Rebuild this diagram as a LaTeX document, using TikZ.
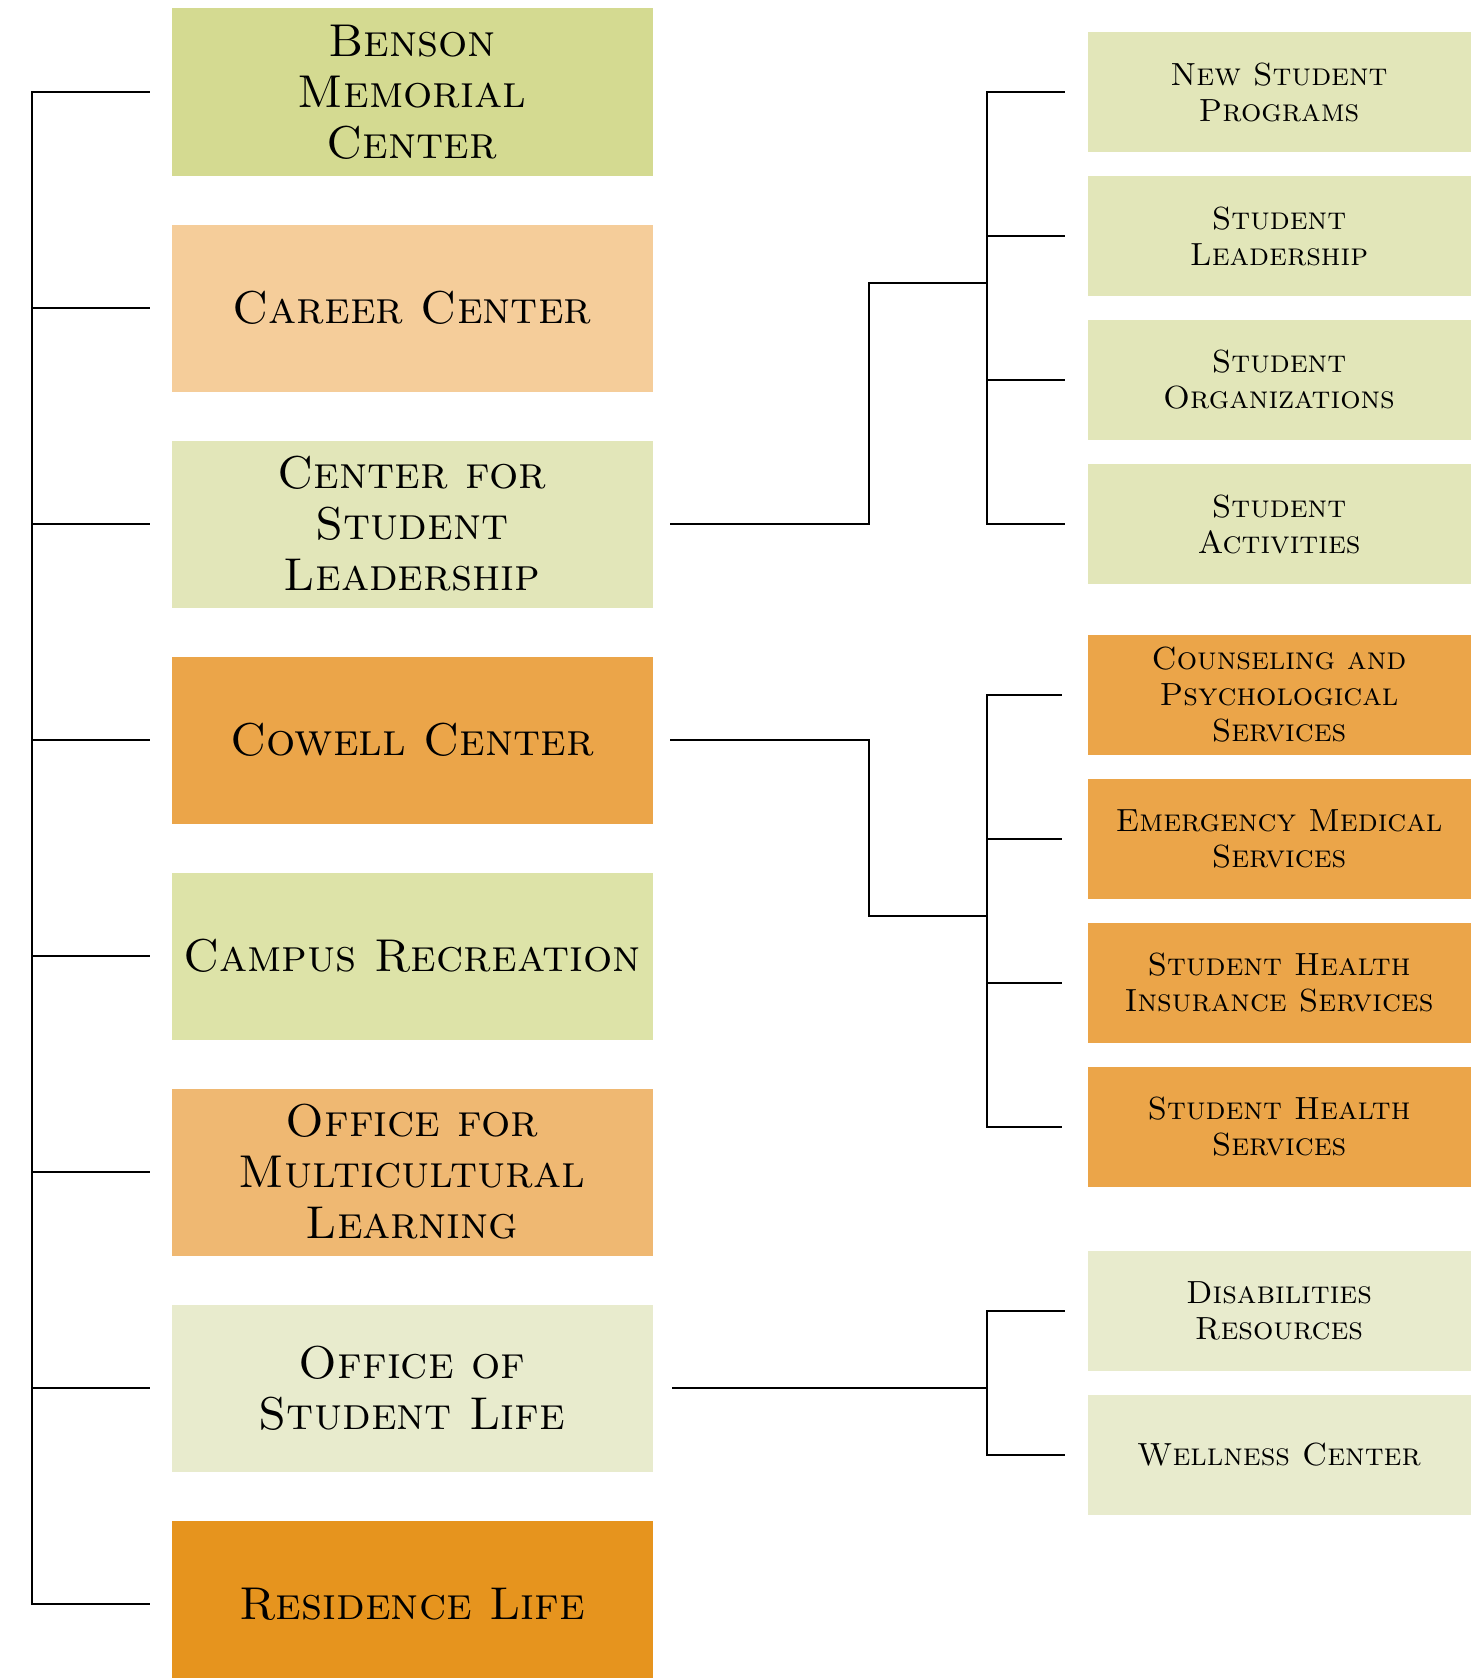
\documentclass[tikz,border=0pt]{standalone}
\usetikzlibrary{positioning}
\definecolor{bensongreen}{RGB}{212,218,145}
\definecolor{careerpeach}{RGB}{245,205,154}
\definecolor{palegreen}{RGB}{226,230,185}
\definecolor{cowellorange}{RGB}{235,165,73}
\definecolor{recgreen}{RGB}{221,227,168}
\definecolor{omlorange}{RGB}{239,184,114}
\definecolor{lifegreen}{RGB}{232,235,205}
\definecolor{resorange}{RGB}{230,148,30}

\begin{document}
\begin{tikzpicture}[x=1pt,y=1pt,node distance=216pt,on grid,
	dept/.style={draw=none,minimum width=481pt,minimum height=167pt,inner sep=0pt,align=center,font=\fontsize{46}{51}\selectfont\scshape},
	unit/.style={draw=none,minimum width=383pt,minimum height=120pt,inner sep=0pt,align=center,font=\fontsize{32}{36}\selectfont\scshape},
	link/.style={line width=2.6pt,line cap=rect}, ]

	\useasboundingbox (0,0) rectangle (1475,-1678);
	\fill[white] (0,0) rectangle (1475,-1678);

	\node[dept,fill=bensongreen] (benson) at (412,-92) {Benson\\Memorial\\Center};
	\node[dept,fill=careerpeach,below = of benson] (career) {Career Center};
	\node[dept,fill=palegreen,below = of career] (csl) {Center for\\Student\\Leadership};
	\node[dept,fill=cowellorange,below = of csl] (cowell) {Cowell Center};
	\node[dept,fill=recgreen,below = of cowell] (rec) {Campus Recreation};
	\node[dept,fill=omlorange,below = of rec] (oml) {Office for\\Multicultural\\Learning};
	\node[dept,fill=lifegreen,below = of oml] (osl) {Office of\\Student Life};
	\node[dept,fill=resorange,below = of osl] (reslife) {Residence Life};

	\node[unit,fill=palegreen] (nsp) at (1279,-92) {New Student\\Programs};
	\node[unit,fill=palegreen,below = 144pt of nsp] (sl) {Student\\Leadership};
	\node[unit,fill=palegreen,below = 144pt of sl] (so) {Student\\Organizations};
	\node[unit,fill=palegreen,below = 144pt of so] (sa) {Student\\Activities};

	\node[unit,fill=cowellorange] (caps) at (1279,-695) {Counseling and\\Psychological\\Services};
	\node[unit,fill=cowellorange,below = 144pt of caps] (ems) {Emergency Medical\\Services};
	\node[unit,fill=cowellorange,below = 144pt of ems] (shis) {Student Health\\Insurance Services};
	\node[unit,fill=cowellorange,below = 144pt of shis] (shs) {Student Health\\Services};

	\node[unit,fill=lifegreen] (dr) at (1279,-1311) {Disabilities\\Resources};
	\node[unit,fill=lifegreen,below = 144pt of dr] (wc) {Wellness Center};

	\coordinate (lspine) at (32,0);
	\coordinate (rspine) at (987,0);
	\coordinate (hub1) at (869,-283);
	\coordinate (hub2) at (869,-916);

	% left tree
	\draw[link] (lspine |- benson) -- (lspine |- reslife);
	\draw[link,shorten >=23pt] (lspine |- benson) -- (benson.west);
	\draw[link,shorten >=23pt] (lspine |- career) -- (career.west);
	\draw[link,shorten >=23pt] (lspine |- csl) -- (csl.west);
	\draw[link,shorten >=23pt] (lspine |- cowell) -- (cowell.west);
	\draw[link,shorten >=23pt] (lspine |- rec) -- (rec.west);
	\draw[link,shorten >=23pt] (lspine |- oml) -- (oml.west);
	\draw[link,shorten >=23pt] (lspine |- osl) -- (osl.west);
	\draw[link,shorten >=23pt] (lspine |- reslife) -- (reslife.west);

	% student leadership
	\draw[link] ([xshift=19pt]csl.east) -| (hub1) -- (rspine |- hub1);
	\draw[link] (rspine |- nsp) -- (rspine |- sa);
	\draw[link,shorten >=24pt] (rspine |- nsp) -- (nsp.west);
	\draw[link,shorten >=24pt] (rspine |- sl) -- (sl.west);
	\draw[link,shorten >=24pt] (rspine |- so) -- (so.west);
	\draw[link,shorten >=24pt] (rspine |- sa) -- (sa.west);

	% cowell
	\draw[link] ([xshift=19pt]cowell.east) -| (hub2) -- (rspine |- hub2);
	\draw[link] (rspine |- caps) -- (rspine |- shs);
	\draw[link,shorten >=27pt] (rspine |- caps) -- (caps.west);
	\draw[link,shorten >=27pt] (rspine |- ems) -- (ems.west);
	\draw[link,shorten >=27pt] (rspine |- shis) -- (shis.west);
	\draw[link,shorten >=27pt] (rspine |- shs) -- (shs.west);

	% student life
	\draw[link] ([xshift=21pt]osl.east) -- (rspine |- osl);
	\draw[link] (rspine |- dr) -- (rspine |- wc);
	\draw[link,shorten >=24pt] (rspine |- dr) -- (dr.west);
	\draw[link,shorten >=24pt] (rspine |- wc) -- (wc.west);

\end{tikzpicture}
\end{document}
